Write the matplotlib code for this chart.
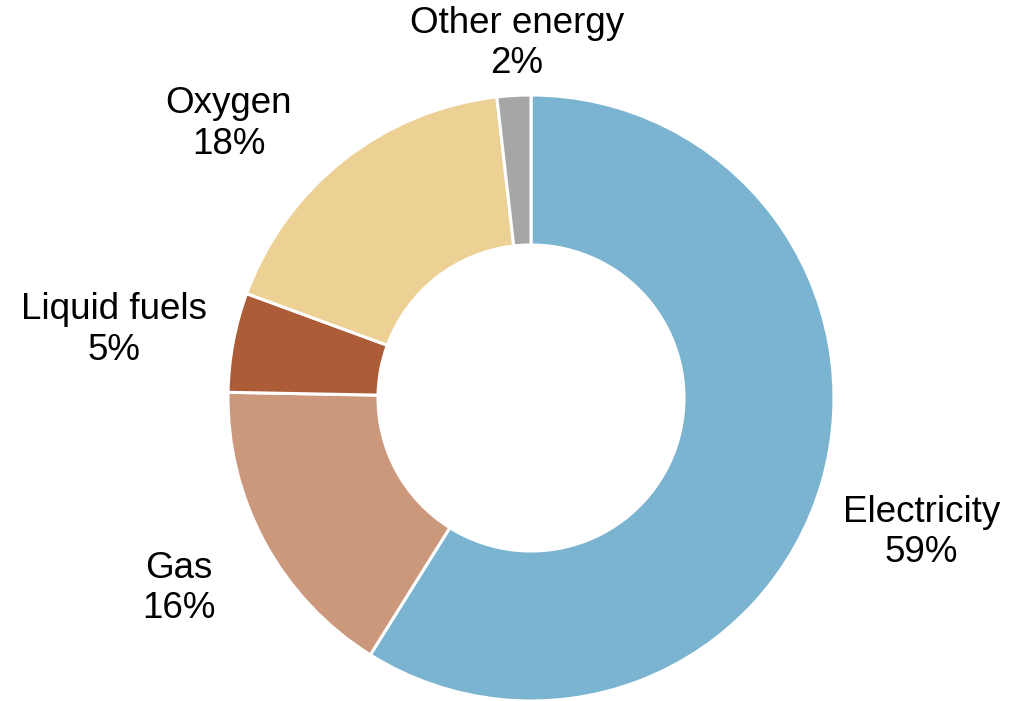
import matplotlib
matplotlib.use("Agg")
import matplotlib.pyplot as plt

categories = ["Electricity", "Gas", "Liquid fuels", "Oxygen", "Other energy"]
shares = [58.9, 16.4, 5.3, 17.6, 1.8]
colors = ["#7AB4D0", "#CC987C", "#AD5C38", "#EDD194", "#A6A6A6"]

# label centres in axes data units (radius = 1)
label_pos = [(1.288, -0.444), (-1.162, -0.629), (-1.377, 0.225), (-0.997, 0.904), (-0.046, 1.169)]

plt.rcParams['font.family'] = ['Liberation Sans', 'DejaVu Sans']

fig = plt.figure(figsize=(10.21, 7.01), dpi=100)
cx, cy, R = 531, 398, 303
W, H = 1021, 701
ax = fig.add_axes([(cx - R) / W, (H - cy - R) / H, 2 * R / W, 2 * R / H])

ax.pie(shares, colors=colors, startangle=90, counterclock=False, radius=1,
       wedgeprops=dict(width=0.495, edgecolor="white", linewidth=2.2))
ax.set_xlim(-1, 1)
ax.set_ylim(-1, 1)
ax.set_aspect("equal")
ax.axis("off")

for name, val, (x, y) in zip(categories, shares, label_pos):
    ax.text(x, y, f"{name}\n{round(val)}%", ha="center", va="center", fontsize=26.5,
            color="black", linespacing=1.2, clip_on=False)

fig.savefig("out.png", dpi=100)
